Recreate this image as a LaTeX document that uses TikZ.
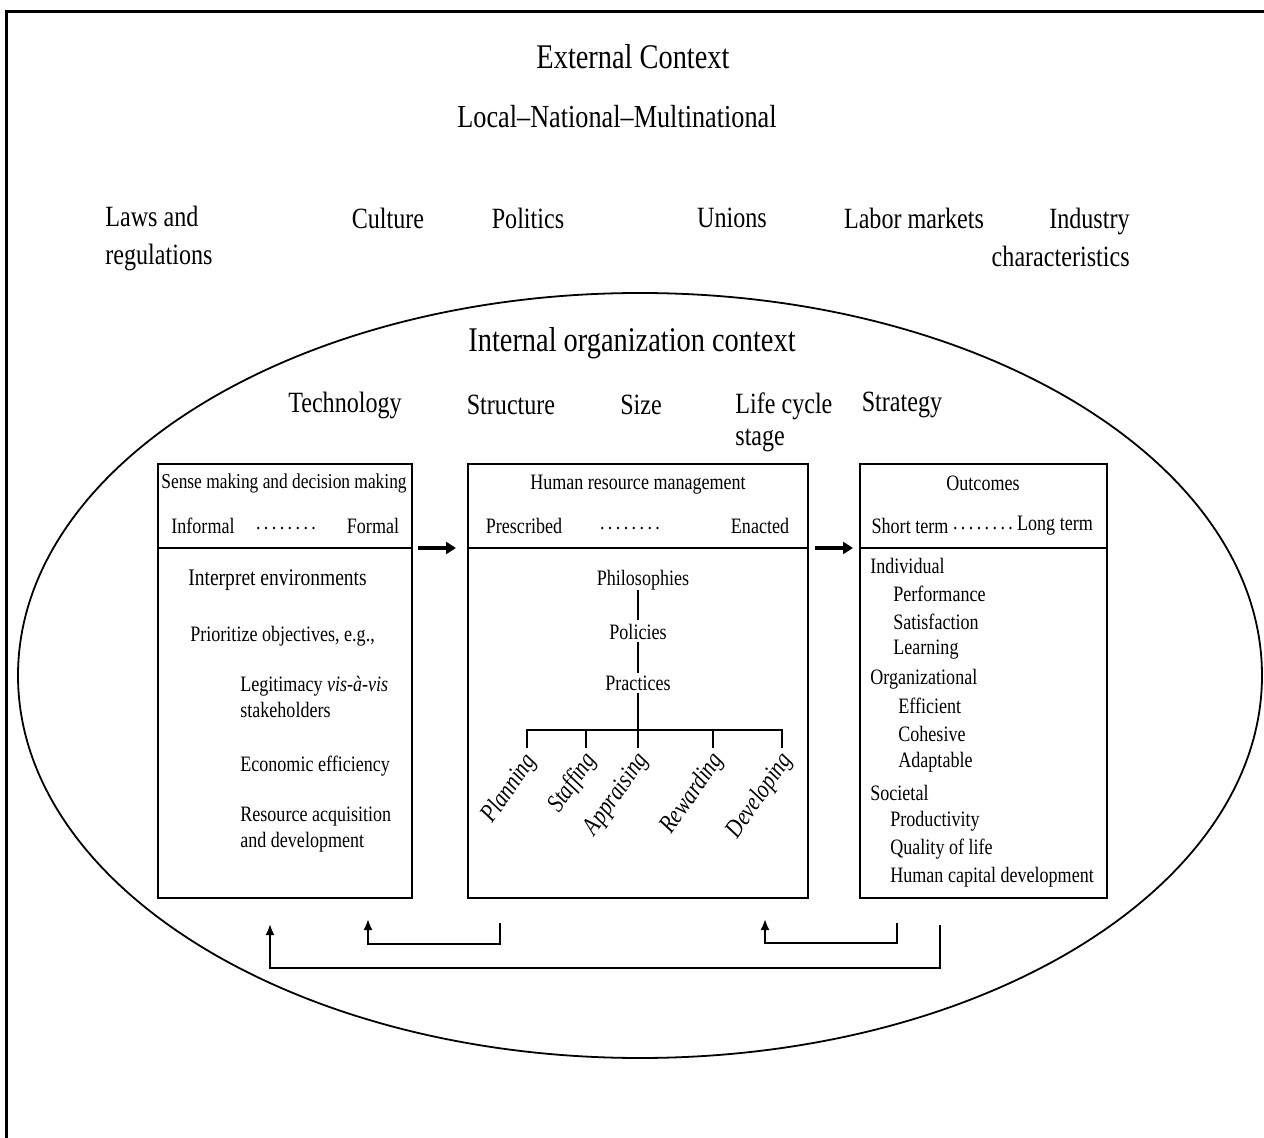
\documentclass[tikz,border=0pt]{standalone}
\usepackage{fontspec}
\setmainfont{Liberation Serif}[FakeStretch=0.82]
\usetikzlibrary{arrows.meta}
\newcommand\ldts{.\kern1.7pt.\kern1.7pt.\kern1.7pt.\kern1.7pt.\kern1.7pt.\kern1.7pt.\kern1.7pt.}
\begin{document}
\begin{tikzpicture}[x=0.5pt,y=-0.5pt,
  big/.style={font=\fontsize{17.3}{20}\selectfont, inner sep=0pt},
  mid/.style={font=\fontsize{16}{19}\selectfont, inner sep=0pt},
  lab/.style={font=\fontsize{14.7}{19}\selectfont, inner sep=0pt},
  bx/.style={font=\fontsize{11}{13}\selectfont, inner sep=0pt},
  hdr/.style={font=\fontsize{10.6}{13}\selectfont, inner sep=0pt},
  rotl/.style={font=\fontsize{12.8}{15}\selectfont\itshape, inner sep=0pt, rotate=55, anchor=east},
  boxpart/.style={draw, line width=1pt, inner sep=0pt, outer sep=0pt, anchor=north west},
  bigarr/.style={line width=2pt, -{Triangle[length=5pt,width=6pt]}},
  fb/.style={line width=1pt, -{Latex[length=5.5pt,width=4.5pt]}},
  thin/.style={line width=0.8pt}]
\useasboundingbox (0,0) rectangle (1264,1138);
\fill[white] (0,0) rectangle (1264,1138);
% outer frame
\draw[line width=1.5pt] (6,1160) -- (6,12) -- (1290,12);

% external context
\node[big] (ext) at (633,57) {External Context};
\node[mid] (lnm) at (617,117) {Local--National--Multinational};
\node[lab, align=left, anchor=west] (laws) at (105,238) {Laws and\\regulations};
\node[lab] (cult) at (388,218) {Culture};
\node[lab] (poli) at (528,218) {Politics};
\node[lab] (unio) at (732,218) {Unions};
\node[lab] (labm) at (914,218) {Labor markets};
\node[lab, align=right, anchor=east] (indu) at (1130,237) {Industry\\characteristics};

% internal context
\draw[line width=0.9pt] (640,675.5) ellipse [x radius=311pt, y radius=191.25pt];
\node[big] (ioc) at (632,343) {Internal organization context};
\node[lab] (tech) at (345,405) {Technology};
\node[lab] (stru) at (511,405) {Structure};
\node[lab] (size) at (641,405) {Size};
\node[lab, align=left, anchor=west, font=\fontsize{14.7}{16}\selectfont] (life) at (735,422) {Life cycle\\stage};
\node[lab] (strat) at (902,405) {Strategy};

% boxes
\node[boxpart, minimum width=127pt, minimum height=42pt] (b1top) at (158,464) {};
\node[boxpart, minimum width=127pt, minimum height=175pt] (b1bot) at (158,548) {};
\node[boxpart, minimum width=170pt, minimum height=42pt] (b2top) at (468,464) {};
\node[boxpart, minimum width=170pt, minimum height=175pt] (b2bot) at (468,548) {};
\node[boxpart, minimum width=123.5pt, minimum height=42pt] (b3top) at (860,464) {};
\node[boxpart, minimum width=123.5pt, minimum height=175pt] (b3bot) at (860,548) {};

\draw[bigarr, shorten <=3pt, shorten >=6pt] (b1top.south east) -- (b2top.south west);
\draw[bigarr, shorten <=3.5pt, shorten >=3.5pt] (b2top.south east) -- (b3top.south west);

% box 1
\node[hdr] (smdm) at (284,483) {Sense making and decision making};
\node[bx] (inf) at (203,526) {Informal};
\node[bx] (dt1) at (286,529) {\ldts};
\node[bx] (form) at (373,526) {Formal};
\node[bx, anchor=west, font=\fontsize{11.9}{14}\selectfont] (interp) at (188,580) {Interpret environments};
\node[bx, anchor=west] (prio) at (190,636) {Prioritize objectives, e.g.,};
\node[bx, anchor=west, align=left] (legit) at (240,697) {Legitimacy \textit{vis-à-vis}\\stakeholders};
\node[bx, anchor=west] (econ) at (240,766) {Economic efficiency};
\node[bx, anchor=west, align=left] (reso) at (240,829.5) {Resource acquisition\\and development};

% box 2
\node[bx] (hrm) at (638,485) {Human resource management};
\node[bx] (pres) at (524,526) {Prescribed};
\node[bx] (dt2) at (630,529) {\ldts};
\node[bx] (enac) at (760,526) {Enacted};
\node[bx] (phil) at (643,580) {Philosophies};
\node[bx] (pols) at (638,632) {Policies};
\node[bx] (prac) at (638,683) {Practices};
\draw[thin] (pols.north) ++(0,-4) -- (pols.north |- phil.south);
\draw[thin] ([yshift=1pt]prac.north) -- ([yshift=-1pt]pols.south);
\coordinate (bar) at (638,730);
\coordinate (d1) at (527,748);
\coordinate (d2) at (586,748);
\coordinate (d3) at (638,748);
\coordinate (d4) at (713,748);
\coordinate (d5) at (782,748);
\draw[thin] ([yshift=-1pt]prac.south) -- (bar);
\draw[thin] (d1) -- (d1 |- bar) -- (d5 |- bar) -- (d5);
\draw[thin] (d2 |- bar) -- (d2);
\draw[thin] (d3 |- bar) -- (d3);
\draw[thin] (d4 |- bar) -- (d4);
\node[rotl] (plan) at (532,757) {Planning};
\node[rotl] (staf) at (592,756) {Staffing};
\node[rotl] (appr) at (644,756) {Appraising};
\node[rotl] (rewa) at (719,756) {Rewarding};
\node[rotl] (deve) at (788,756) {Developing};

% box 3
\node[bx] (outc) at (983,483) {Outcomes};
\node[bx] (stt) at (910,526) {Short term};
\node[bx] (dt3) at (983,529) {\ldts};
\node[bx] (ltt) at (1055,526) {Long term};
\node[bx, anchor=west] (o1) at (870,566) {Individual};
\node[bx, anchor=west] (o2) at (893,594) {Performance};
\node[bx, anchor=west] (o3) at (893,622) {Satisfaction};
\node[bx, anchor=west] (o4) at (893,650) {Learning};
\node[bx, anchor=west] (o5) at (870,679) {Organizational};
\node[bx, anchor=west] (o6) at (898,706) {Efficient};
\node[bx, anchor=west] (o7) at (898,734) {Cohesive};
\node[bx, anchor=west] (o8) at (898,762) {Adaptable};
\node[bx, anchor=west] (o9) at (870,793) {Societal};
\node[bx, anchor=west] (o10) at (890,821) {Productivity};
\node[bx, anchor=west] (o11) at (890,849) {Quality of life};
\node[bx, anchor=west] (o12) at (890,877) {Human capital development};

% feedback arrows
\coordinate (fa1) at (940,925);
\coordinate (fa2) at (270,924);
\coordinate (fb1) at (500,923);
\coordinate (fb2) at (368,919);
\coordinate (fc1) at (897,923);
\coordinate (fc2) at (765,919);
\draw[fb] (fa1) -- ++(0,43) -| (fa2);
\draw[fb] (fb1) -- ++(0,21) -| (fb2);
\draw[fb] (fc1) -- ++(0,20) -| (fc2);
\end{tikzpicture}
\end{document}
